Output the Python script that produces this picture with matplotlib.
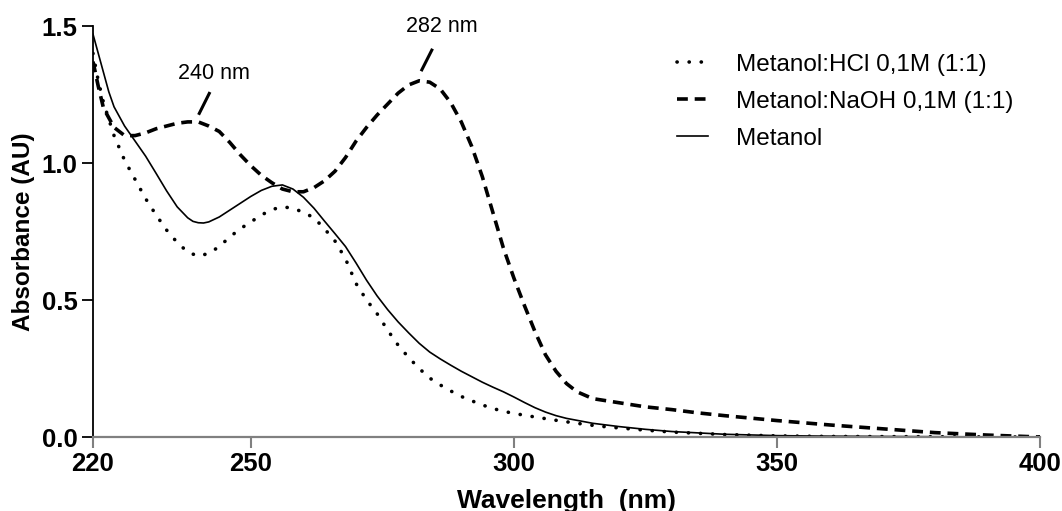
import matplotlib
matplotlib.use("Agg")
import matplotlib.pyplot as plt

plt.rcParams['font.family'] = ['Liberation Sans', 'DejaVu Sans']

# ---- data ----
wl_met = [220, 221, 222, 223, 224, 226, 228, 230, 232, 234, 236, 238, 239, 240, 241, 242, 244,
          246, 248, 250, 252, 254, 256, 258, 260, 262, 264, 266, 268, 270, 272, 274, 276, 278,
          280, 282, 284, 286, 288, 290, 292, 294, 296, 298, 300, 302, 304, 306, 308, 310, 315,
          320, 325, 330, 340, 350, 360, 370, 380, 390, 400]
abs_met = [1.47, 1.40, 1.33, 1.26, 1.205, 1.135, 1.08, 1.025, 0.962, 0.898, 0.840, 0.800, 0.787,
           0.782, 0.781, 0.785, 0.803, 0.828, 0.853, 0.878, 0.90, 0.915, 0.92, 0.905, 0.875,
           0.835, 0.788, 0.742, 0.695, 0.635, 0.572, 0.515, 0.465, 0.42, 0.38, 0.342, 0.31,
           0.285, 0.262, 0.24, 0.22, 0.20, 0.182, 0.165, 0.146, 0.126, 0.107, 0.091, 0.078,
           0.068, 0.05, 0.038, 0.028, 0.02, 0.01, 0.005, 0.003, 0.002, 0.001, 0.0005, 0.0]

wl_naoh = [220, 221, 222, 224, 226, 228, 230, 232, 234, 236, 238, 240, 242, 244, 246, 248, 250,
           252, 254, 256, 258, 260, 262, 264, 266, 268, 270, 272, 274, 276, 278, 280, 282, 284,
           286, 288, 290, 292, 294, 296, 298, 300, 302, 304, 306, 308, 310, 312, 315, 320, 325,
           330, 335, 340, 350, 360, 370, 380, 390, 400]
abs_naoh = [1.37, 1.28, 1.20, 1.13, 1.10, 1.10, 1.11, 1.125, 1.135, 1.145, 1.15, 1.15, 1.135,
            1.115, 1.075, 1.03, 0.99, 0.955, 0.928, 0.905, 0.895, 0.895, 0.91, 0.935, 0.97, 1.02,
            1.08, 1.13, 1.175, 1.215, 1.255, 1.285, 1.30, 1.295, 1.27, 1.22, 1.15, 1.06, 0.95,
            0.82, 0.69, 0.58, 0.48, 0.385, 0.30, 0.24, 0.195, 0.165, 0.14, 0.125, 0.11, 0.10,
            0.088, 0.078, 0.06, 0.044, 0.03, 0.016, 0.007, 0.0]

wl_hcl = [220, 221, 222, 224, 226, 228, 230, 232, 234, 236, 238, 240, 242, 244, 246, 248, 250,
          252, 254, 256, 258, 260, 262, 264, 266, 268, 270, 272, 274, 276, 278, 280, 282, 284,
          286, 288, 290, 292, 294, 296, 298, 300, 304, 308, 312, 316, 320, 325, 330, 340, 350,
          360, 380, 400]
abs_hcl = [1.40, 1.30, 1.22, 1.10, 1.01, 0.94, 0.87, 0.81, 0.755, 0.71, 0.675, 0.66, 0.67, 0.695,
           0.73, 0.76, 0.785, 0.81, 0.83, 0.84, 0.835, 0.82, 0.80, 0.76, 0.715, 0.65, 0.56, 0.50,
           0.45, 0.39, 0.335, 0.29, 0.25, 0.215, 0.19, 0.168, 0.148, 0.132, 0.117, 0.104, 0.094,
           0.086, 0.073, 0.061, 0.05, 0.04, 0.033, 0.025, 0.018, 0.009, 0.004, 0.002, 0.001, 0.0]

labels = ["Metanol:HCl 0,1M (1:1)", "Metanol:NaOH 0,1M (1:1)", "Metanol"]
xticks = [220, 250, 300, 350, 400]
yticks = [0.0, 0.5, 1.0, 1.5]

fig = plt.figure(figsize=(10.62, 5.11), dpi=100)
ax = fig.add_axes([93/1062, 74/511, (1040-93)/1062, (437-26)/511])

ax.plot(wl_hcl, abs_hcl, color='black', lw=2.6, linestyle=(0, (0.05, 3.3)),
        dash_capstyle='round', label=labels[0])
ax.plot(wl_naoh, abs_naoh, color='black', lw=2.6, linestyle=(0, (3.0, 1.9)),
        label=labels[1])
ax.plot(wl_met, abs_met, color='black', lw=1.2, label=labels[2])

ax.set_xlim(220, 400)
ax.set_ylim(0, 1.5)
ax.set_xticks(xticks)
ax.set_yticks(yticks)
ax.set_xticklabels([str(t) for t in xticks], fontsize=18.5, fontweight='bold')
ax.set_yticklabels([f"{t:.1f}" for t in yticks], fontsize=18.5, fontweight='bold')

for s in ['top', 'right']:
    ax.spines[s].set_visible(False)
ax.spines['left'].set_linewidth(1.3)
ax.spines['bottom'].set_linewidth(1.6)
ax.spines['bottom'].set_color('#808080')
ax.tick_params(axis='y', direction='out', length=8, width=1.3, pad=3)
ax.tick_params(axis='x', direction='out', length=8, width=1.5, color='#808080', pad=3,
               labelcolor='black')

ax.set_xlabel("Wavelength  (nm)", fontsize=19, fontweight='bold', labelpad=9)
ax.set_ylabel("Absorbance (AU)", fontsize=17.5, fontweight='bold', labelpad=5)

# annotations
ax.text(242.9, 1.327, "240 nm", fontsize=15.5, ha='center', va='center')
ax.plot([242.1, 240.2], [1.254, 1.181], color='black', lw=2.2)
ax.text(286.3, 1.497, "282 nm", fontsize=15.5, ha='center', va='center')
ax.plot([284.4, 282.5], [1.412, 1.34], color='black', lw=2.2)

leg = ax.legend(loc='upper left', bbox_to_anchor=(0.606, 0.956), frameon=False, fontsize=17.5,
                handlelength=1.28, handletextpad=1.15, labelspacing=0.62, borderaxespad=0.0)

fig.savefig("out.png", dpi=100)
